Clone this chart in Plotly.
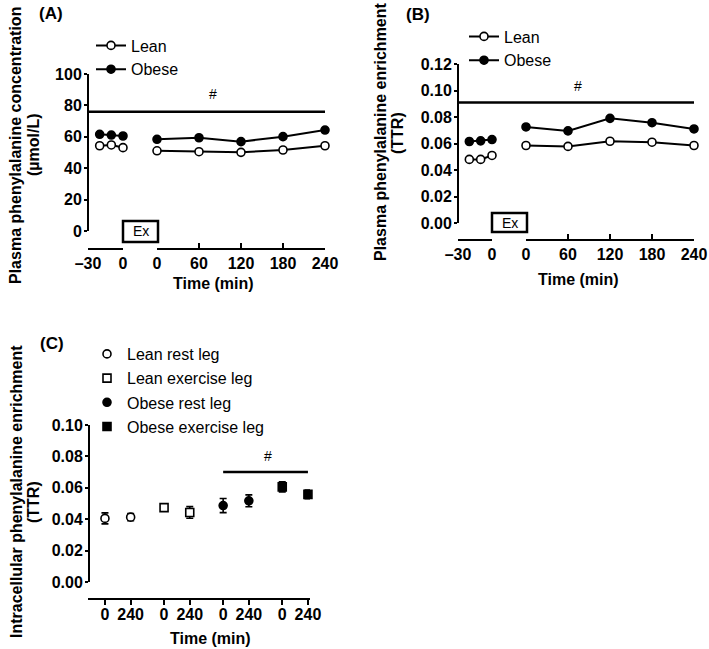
import plotly.graph_objects as go

# ---------------- data ----------------
pre_time = [-20, -10, 0]
post_time = [0, 60, 120, 180, 240]

# (A) plasma phenylalanine concentration (µmol/L)
lean_conc_pre = [54.3, 54.8, 53.1]
obese_conc_pre = [61.6, 61.1, 60.5]
lean_conc_post = [51.1, 50.5, 50.1, 51.6, 54.3]
obese_conc_post = [58.4, 59.4, 56.9, 60.1, 64.3]

# (B) plasma phenylalanine enrichment (TTR)
lean_ttr_pre = [0.048, 0.048, 0.051]
obese_ttr_pre = [0.0615, 0.062, 0.063]
lean_ttr_post = [0.0585, 0.0578, 0.0617, 0.061, 0.0585]
obese_ttr_post = [0.0725, 0.0695, 0.079, 0.0757, 0.071]

# (C) intracellular phenylalanine enrichment (TTR)
c_groups = ["Lean rest leg", "Lean exercise leg", "Obese rest leg", "Obese exercise leg"]
c_times = ["0", "240"]
lean_rest = [0.0405, 0.0413]
lean_rest_err = [0.0035, 0.0023]
lean_ex = [0.0474, 0.0443]
lean_ex_err = [0.0008, 0.0037]
obese_rest = [0.0487, 0.0517]
obese_rest_err = [0.0045, 0.0038]
obese_ex = [0.0606, 0.0558]
obese_ex_err = [0.0032, 0.0028]

a_ticks_pre = [-30, 0]
a_ticktext_pre = ["\u201330", "0"]
a_ticks_post = [0, 60, 120, 180, 240]

# ---------------- helpers ----------------
W, H = 709, 649
def px(x): return x / W
def py(y): return 1 - y / H

FONT = "Liberation Sans, Arial, sans-serif"
BLACK = "black"

GROUP_STEP = 2.3   # distance between first points of consecutive groups in panel C
def c_pos(g):
    return [g * GROUP_STEP + i for i in range(len(c_times))]

axis_common = dict(showgrid=False, zeroline=False, showline=True, linecolor=BLACK,
                   linewidth=2, tickcolor=BLACK, tickwidth=2,
                   tickfont=dict(family=FONT, size=16, color=BLACK, weight="bold"),
                   fixedrange=True)

lean_marker = dict(symbol="circle", size=8, color="white", line=dict(color=BLACK, width=1.6))
obese_marker = dict(symbol="circle", size=8, color=BLACK, line=dict(color=BLACK, width=1.6))
line_style = dict(color=BLACK, width=2)

fig = go.Figure()

def add_pair(xa_pre, xa_post, ya, lean_pre, lean_post, obese_pre, obese_post, legend):
    for name, pre, post, mk in [("Lean", lean_pre, lean_post, lean_marker),
                                ("Obese", obese_pre, obese_post, obese_marker)]:
        fig.add_trace(go.Scatter(x=pre_time, y=pre, mode="lines+markers", name=name,
                                 marker=mk, line=line_style, xaxis=xa_pre, yaxis=ya,
                                 legend=legend, legendgroup=legend + name,
                                 cliponaxis=False, showlegend=True))
        fig.add_trace(go.Scatter(x=post_time, y=post, mode="lines+markers", name=name,
                                 marker=mk, line=line_style, xaxis=xa_post, yaxis=ya,
                                 legend=legend, legendgroup=legend + name,
                                 cliponaxis=False, showlegend=False))

add_pair("x", "x2", "y", lean_conc_pre, lean_conc_post, obese_conc_pre, obese_conc_post, "legend")
add_pair("x3", "x4", "y2", lean_ttr_pre, lean_ttr_post, obese_ttr_pre, obese_ttr_post, "legend2")

c_series = [(lean_rest, lean_rest_err, dict(symbol="circle", size=8, color="white", line=dict(color=BLACK, width=1.6))),
            (lean_ex, lean_ex_err, dict(symbol="square", size=8, color="white", line=dict(color=BLACK, width=1.6))),
            (obese_rest, obese_rest_err, dict(symbol="circle", size=8, color=BLACK, line=dict(color=BLACK, width=1.6))),
            (obese_ex, obese_ex_err, dict(symbol="square", size=8, color=BLACK, line=dict(color=BLACK, width=1.6)))]
for g, (vals, errs, mk) in enumerate(c_series):
    fig.add_trace(go.Scatter(x=c_pos(g), y=vals, mode="markers", name=c_groups[g],
                             marker=mk, xaxis="x5", yaxis="y3", legend="legend3",
                             legendgroup="c" + str(g), cliponaxis=False,
                             error_y=dict(type="data", array=errs, visible=True,
                                          color=BLACK, thickness=1.6, width=3.5)))

# ---------------- axes ----------------
A_PRE = [px(88), px(123)]
A_POST = [px(157), px(325)]
B_PRE = [px(458), px(492)]
B_POST = [px(526), px(694)]
C_X = [px(88), px(310)]

c_tickvals = [p for g in range(len(c_groups)) for p in c_pos(g)]
c_ticktext = c_times * len(c_groups)

fig.update_layout(
    xaxis=dict(axis_common, domain=A_PRE, range=[-30, 0], anchor="free", position=py(249),
               ticks="inside", ticklen=5, tickvals=a_ticks_pre, ticktext=a_ticktext_pre),
    xaxis2=dict(axis_common, domain=A_POST, range=[0, 240], anchor="free", position=py(249),
                ticks="inside", ticklen=5, tickvals=a_ticks_post),
    yaxis=dict(axis_common, domain=[py(231), py(74)], range=[0, 100], anchor="free",
               position=px(88), ticks="outside", ticklen=3, dtick=20),
    xaxis3=dict(axis_common, domain=B_PRE, range=[-30, 0], anchor="free", position=py(240),
                ticks="inside", ticklen=5, tickvals=a_ticks_pre, ticktext=a_ticktext_pre),
    xaxis4=dict(axis_common, domain=B_POST, range=[0, 240], anchor="free", position=py(240),
                ticks="inside", ticklen=5, tickvals=a_ticks_post),
    yaxis2=dict(axis_common, domain=[py(223), py(64)], range=[0, 0.12], anchor="free",
                position=px(458), ticks="outside", ticklen=3, dtick=0.02, tickformat=".2f"),
    xaxis5=dict(axis_common, domain=C_X, range=[-0.66, 7.98], anchor="free", position=py(599),
                ticks="outside", ticklen=5, tickvals=c_tickvals, ticktext=c_ticktext,
                tickangle=0),
    yaxis3=dict(axis_common, domain=[py(582), py(425)], range=[0, 0.10], anchor="free",
                position=px(89), ticks="outside", ticklen=3, dtick=0.02, tickformat=".2f"),
)

# pull tick labels a little closer to their axes (ignored if not supported)
for ax_name, off in [("xaxis5", -4), ("yaxis", -1), ("yaxis2", -1), ("yaxis3", -1)]:
    try:
        fig.layout[ax_name].ticklabelstandoff = off
    except Exception:
        pass

legend_common = dict(bgcolor="rgba(0,0,0,0)", borderwidth=0, xanchor="left", yanchor="top",
                     font=dict(family=FONT, size=16, color=BLACK), tracegroupgap=0,
                     itemclick=False, itemdoubleclick=False)
fig.update_layout(
    legend=dict(legend_common, x=px(91), y=py(28.5)),
    legend2=dict(legend_common, x=px(464), y=py(19.5)),
    legend3=dict(legend_common, x=px(87), y=py(337), tracegroupgap=0.4),
)

# ---------------- shapes & annotations ----------------
shapes = []
annotations = []

def ann(x, y, text, size=16, bold=True, angle=0, xref="paper", yref="paper"):
    annotations.append(dict(x=x, y=y, xref=xref, yref=yref, text=text, showarrow=False,
                            textangle=angle, xanchor="center", yanchor="middle",
                            font=dict(family=FONT, size=size, color=BLACK,
                                      weight="bold" if bold else "normal")))

# significance bars
shapes.append(dict(type="line", xref="paper", yref="y", x0=A_PRE[0], x1=A_POST[1], y0=76, y1=76,
                   line=dict(color=BLACK, width=2.5)))
shapes.append(dict(type="line", xref="paper", yref="y2", x0=B_PRE[0], x1=B_POST[1], y0=0.091, y1=0.091,
                   line=dict(color=BLACK, width=2.5)))
shapes.append(dict(type="line", xref="x5", yref="y3", x0=c_pos(2)[0], x1=c_pos(3)[1], y0=0.070, y1=0.070,
                   line=dict(color=BLACK, width=2.5)))
ann(80, 87, "#", size=14, bold=False, xref="x2", yref="y")
ann(74, 0.1035, "#", size=14, bold=False, xref="x4", yref="y2")
ann(6.34, 0.0803, "#", size=14, bold=False, xref="x5", yref="y3")

# exercise boxes
for (x0, x1, y0, y1) in [(123, 158, 221, 242), (492, 527, 213, 232)]:
    shapes.append(dict(type="rect", xref="paper", yref="paper", x0=px(x0), x1=px(x1),
                       y0=py(y1), y1=py(y0), line=dict(color=BLACK, width=2.5),
                       fillcolor="white"))
    ann(px((x0 + x1) / 2), py((y0 + y1) / 2), "Ex", size=14, bold=False)

# panel labels
ann(px(51), py(14), "(A)", size=17)
ann(px(418), py(15), "(B)", size=17)
ann(px(52), py(343), "(C)", size=17)

# y titles
ann(px(16), py(146), "Plasma phenylalanine concentration", angle=-90)
ann(px(33), py(145), "(\u00b5mol/L)", angle=-90)
ann(px(380), py(132), "Plasma phenylalanine enrichment", angle=-90)
ann(px(398), py(133), "(TTR)", angle=-90)
ann(px(16), py(492), "Intracellular phenylalanine enrichment", angle=-90)
ann(px(33), py(502), "(TTR)", angle=-90)

# x titles
ann(px(214), py(283), "Time (min)")
ann(px(578), py(280), "Time (min)")
ann(px(210), py(638), "Time (min)")

fig.update_layout(
    width=W, height=H, margin=dict(l=0, r=0, t=0, b=0, autoexpand=False),
    paper_bgcolor="white", plot_bgcolor="rgba(0,0,0,0)",
    font=dict(family=FONT, size=16, color=BLACK),
    shapes=shapes, annotations=annotations,
)

# remove the default page margin so the figure fills the window exactly
fig.write_html("out.html",
               config={"displayModeBar": False, "staticPlot": False},
               post_script="document.body.style.margin='0';"
                           "document.documentElement.style.overflow='hidden';")
